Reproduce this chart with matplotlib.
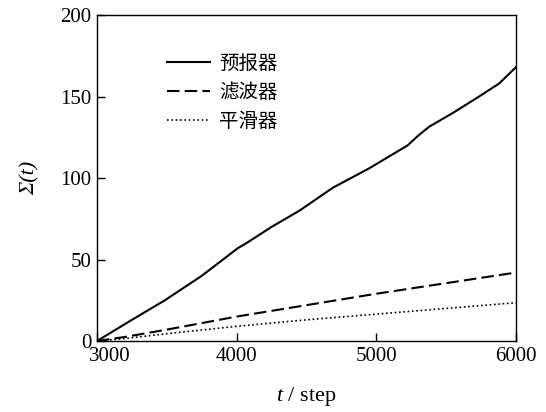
import numpy as np
import matplotlib
matplotlib.use("Agg")
import matplotlib.pyplot as plt
from matplotlib.transforms import ScaledTranslation

plt.rcParams['font.family'] = ['Liberation Serif', 'Noto Sans CJK SC']
plt.rcParams['mathtext.fontset'] = 'custom'
plt.rcParams['mathtext.rm'] = 'Liberation Serif'
plt.rcParams['mathtext.it'] = 'Liberation Serif:italic'

# cumulative error for the three estimators
t_pred = [3000, 3250, 3486, 3750, 4009, 4069, 4250, 4450, 4688, 4950, 5224, 5300, 5379, 5550, 5736, 5880, 6000]
s_pred = [0, 13, 25, 40, 57, 60, 70, 80, 94, 106, 120, 126, 131.5, 140, 150, 158, 168]

t_filt = [3000, 3200, 3500, 4000, 4500, 5000, 5500, 6000]
s_filt = [0, 2.5, 7, 15, 22, 29, 35.5, 42]

t_smooth = [3000, 3200, 3500, 4000, 4500, 5000, 5500, 6000]
s_smooth = [0, 1.5, 4.5, 9, 13, 16.5, 20, 23.5]

labels = ['预报器', '滤波器', '平滑器']

fig = plt.figure(figsize=(5.46, 4.12), dpi=100)
ax = fig.add_axes([0.1777, 0.1723, 0.7673, 0.7913])

ax.plot(t_pred, s_pred, color='black', lw=1.5, ls='-', label=labels[0])
ax.plot(t_filt, s_filt, color='black', lw=1.5, ls=(0, (6, 2.5)), label=labels[1])
ax.plot(t_smooth, s_smooth, color='black', lw=1.2, ls=(0, (1, 1.6)), label=labels[2])

ax.set_xlim(3000, 6000)
ax.set_ylim(0, 200)
ax.set_xticks([3000, 4000, 5000, 6000])
ax.set_yticks([0, 50, 100, 150, 200])
ax.tick_params(direction='in', length=6, width=1, labelsize=15, pad=4,
               top=False, right=False)
for sp in ax.spines.values():
    sp.set_linewidth(1.0)

# shift the first x label away from the y=0 label
lbl = ax.xaxis.get_major_ticks()[0].label1
lbl.set_transform(lbl.get_transform() + ScaledTranslation(0.13, 0, fig.dpi_scale_trans))

ax.set_xlabel('$t$ / step', fontsize=16, labelpad=14)
ax.set_ylabel('Σ(t)', fontsize=16, style='italic', labelpad=15)

leg = ax.legend(loc='upper left', bbox_to_anchor=(0.167, 0.885), frameon=False,
                borderpad=0, borderaxespad=0, handlelength=2.2, handletextpad=0.5,
                labelspacing=0.43, prop={'family': ['Noto Sans CJK SC'], 'size': 14})

fig.savefig('out.png', dpi=100)
